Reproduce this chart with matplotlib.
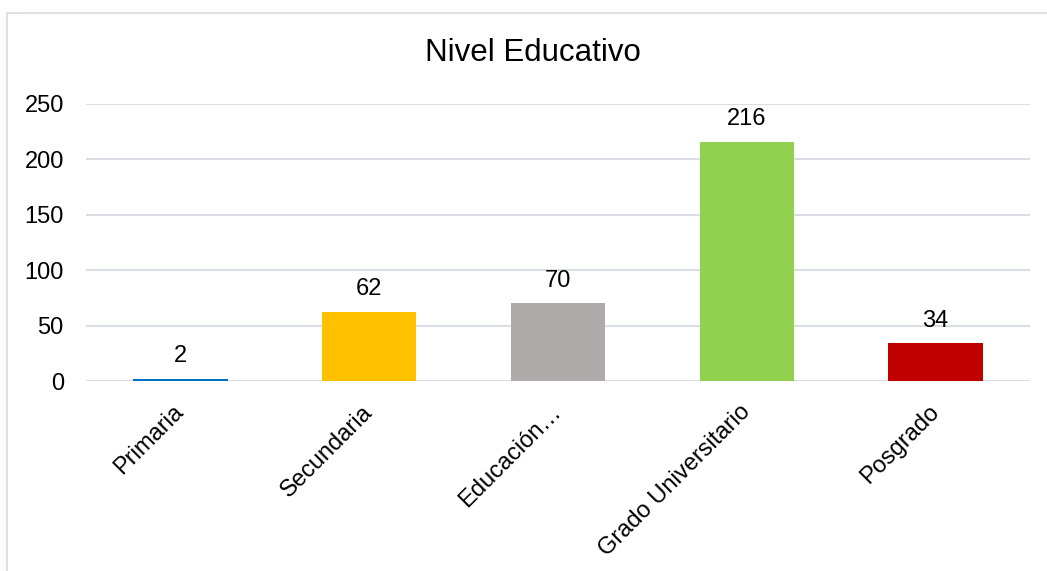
"""Bar chart of education level counts."""

import matplotlib

matplotlib.use("Agg")
import matplotlib.pyplot as plt
from matplotlib.patches import Rectangle

plt.rcParams["font.family"] = ["Liberation Sans", "DejaVu Sans"]

categories = ["Primaria", "Secundaria", "Educación…", "Grado Universitario", "Posgrado"]
counts = [2, 62, 70, 216, 34]
bar_colors = ["#0070C0", "#FFC000", "#AFABAB", "#92D050", "#C00000"]
y_ticks = [0, 50, 100, 150, 200, 250]

figure = plt.figure(figsize=(10.47, 5.71), dpi=100)
axis = figure.add_axes([86 / 1047, 1 - 381 / 571, 944 / 1047, 277 / 571])

# chart frame, open on the right and bottom like the cropped source
figure.patches.append(
    Rectangle(
        (7 / 1047, -0.1),
        1.2,
        1 - 13 / 571 + 0.1,
        transform=figure.transFigure,
        fill=False,
        edgecolor="#DDE1E6",
        linewidth=1.5,
    )
)

positions = range(len(categories))
bars = axis.bar(positions, counts, width=0.5, color=bar_colors, zorder=3)
for bar, value in zip(bars, counts):
    axis.annotate(
        str(value),
        (bar.get_x() + bar.get_width() / 2, bar.get_height()),
        xytext=(0, 8.5),
        textcoords="offset points",
        ha="center",
        va="bottom",
        fontsize=17,
        color="#000000",
    )

axis.set_xlim(-0.5, len(categories) - 0.5)
axis.set_ylim(0, 250)
axis.set_yticks(y_ticks)
axis.set_yticklabels([str(tick) for tick in y_ticks], fontsize=17)
axis.set_xticks(list(positions))
axis.set_xticklabels(
    categories,
    rotation=45,
    ha="right",
    va="center",
    rotation_mode="anchor",
    fontsize=17,
)
axis.tick_params(axis="both", length=0)
axis.tick_params(axis="y", pad=16)
axis.tick_params(axis="x", pad=20)
axis.grid(axis="y", color="#D9DEE4", linewidth=1.5, zorder=0)
for spine in axis.spines.values():
    spine.set_visible(False)

figure.text(533 / 1047, 1 - 53 / 571, "Nivel Educativo", ha="center", va="center", fontsize=22.5)

figure.savefig("out.png", dpi=100)
plt.close(figure)
